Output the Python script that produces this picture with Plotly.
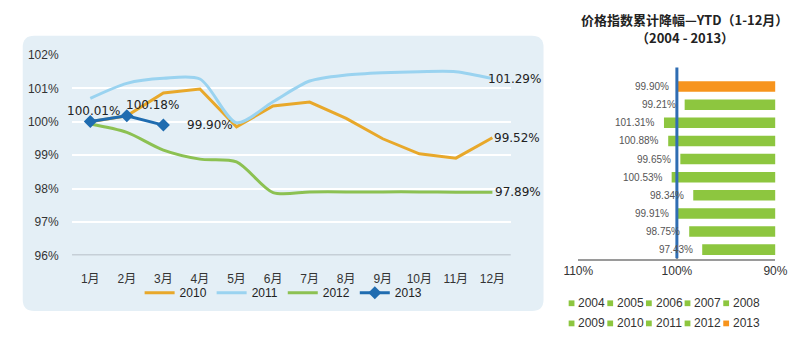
import plotly.graph_objects as go

W, H = 800, 340

# ---------------- data ----------------
months = ["1月", "2月", "3月", "4月", "5月", "6月", "7月", "8月", "9月", "10月", "11月", "12月"]
y2010 = [100.0, 100.18, 100.86, 100.98, 99.85, 100.47, 100.59, 100.1, 99.49, 99.04, 98.91, 99.52]
y2011 = [100.7, 101.15, 101.3, 101.28, 99.97, 100.6, 101.22, 101.4, 101.47, 101.5, 101.5, 101.29]
y2012 = [99.93, 99.68, 99.15, 98.88, 98.8, 97.88, 97.9, 97.9, 97.9, 97.9, 97.89, 97.89]
y2013 = [100.01, 100.18, 99.90]
left_ticks = [96, 97, 98, 99, 100, 101, 102]

bar_years = ["2004", "2005", "2006", "2007", "2008", "2009", "2010", "2011", "2012", "2013"]
bar_values = [97.43, 98.75, 99.91, 98.34, 100.53, 99.65, 100.88, 101.31, 99.21, 99.90]
bar_colors = ["#8dc63f"] * 9 + ["#f7941d"]
right_ticks = [110, 100, 90]

C2010, C2011, C2012, C2013 = "#e8a82a", "#9ad3f0", "#8cc152", "#1f6cb0"
SANS = "Liberation Sans, Arial, Noto Sans CJK SC"


def px(x):
    return x / W


def py(y):
    return 1 - y / H


fig = go.Figure()

# ---------------- left chart ----------------
fig.add_trace(go.Scatter(x=months, y=y2010, name="2010", mode="lines",
                         line=dict(color=C2010, width=3), xaxis="x", yaxis="y"))
fig.add_trace(go.Scatter(x=months, y=y2011, name="2011", mode="lines",
                         line=dict(color=C2011, width=3, shape="spline", smoothing=0.8),
                         xaxis="x", yaxis="y"))
fig.add_trace(go.Scatter(x=months, y=y2012, name="2012", mode="lines",
                         line=dict(color=C2012, width=3, shape="spline", smoothing=0.8),
                         xaxis="x", yaxis="y"))
fig.add_trace(go.Scatter(x=months[:len(y2013)], y=y2013, name="2013", mode="lines+markers",
                         line=dict(color=C2013, width=3),
                         marker=dict(symbol="diamond", size=10, color=C2013),
                         xaxis="x", yaxis="y"))

annos = []
lab_font = dict(family="DejaVu Sans", size=12, color="#222")
# 2013 labels
annos.append(dict(x=months[0], y=y2013[0], xref="x", yref="y", text=f"{y2013[0]:.2f}%",
                  showarrow=False, xanchor="center", yanchor="middle", xshift=3, yshift=10, font=lab_font))
annos.append(dict(x=months[1], y=y2013[1], xref="x", yref="y", text=f"{y2013[1]:.2f}%",
                  showarrow=False, xanchor="left", yanchor="middle", xshift=-3, yshift=11, font=lab_font))
annos.append(dict(x=months[2], y=y2013[2], xref="x", yref="y", text=f"{y2013[2]:.2f}%",
                  showarrow=False, xanchor="left", yanchor="middle", xshift=22, yshift=0, font=lab_font))
# end labels
for series, dx in ((y2011, -6), (y2010, 0), (y2012, 1)):
    annos.append(dict(x=months[-1], y=series[-1], xref="x", yref="y", text=f"{series[-1]:.2f}%",
                      showarrow=False, xanchor="left", yanchor="middle", xshift=dx, font=lab_font))

# ---------------- right chart ----------------
fig.add_trace(go.Bar(y=bar_years, x=[v - 90 for v in bar_values], base=90, orientation="h",
                     marker=dict(color=bar_colors, line=dict(width=0)), width=0.58,
                     xaxis="x2", yaxis="y2", showlegend=False))
for i, v in enumerate(bar_values):
    annos.append(dict(x=v, y=i, xref="x2", yref="y2", text=f"{v:.2f}%", showarrow=False,
                      xanchor="right", yanchor="middle", xshift=-7,
                      font=dict(family=SANS, size=10, color="#555")))

# right title (two lines)
title_font = dict(family="Noto Sans CJK SC", size=13, color="#222")
annos.append(dict(x=px(693), y=py(13), xref="paper", yref="paper", showarrow=False,
                  text="<b>价格指数累计降幅—YTD（1-12月）</b>",
                  xanchor="center", yanchor="middle", font=title_font))
annos.append(dict(x=px(693), y=py(32), xref="paper", yref="paper", showarrow=False,
                  text="<b>（2004 - 2013）</b>",
                  xanchor="center", yanchor="middle", font=title_font))

shapes = []
# left rounded panel
x0, x1, y0, y1, r = px(8), px(547), py(317), py(30), 12
rx, ry = r / W, r / H
shapes.append(dict(type="path", xref="paper", yref="paper", layer="below",
                   path=(f"M{x0+rx},{y1} L{x1-rx},{y1} Q{x1},{y1} {x1},{y1-ry} "
                         f"L{x1},{y0+ry} Q{x1},{y0} {x1-rx},{y0} L{x0+rx},{y0} "
                         f"Q{x0},{y0} {x0},{y0+ry} L{x0},{y1-ry} Q{x0},{y1} {x0+rx},{y1} Z"),
                   fillcolor="#e4eff6", line=dict(width=0)))
# 100% reference line on the right chart
shapes.append(dict(type="line", xref="x2", yref="paper", x0=100, x1=100, y0=py(262), y1=py(63),
                   line=dict(color="#2f6db3", width=3)))

# right custom legend (two rows of five)
for i, (yr, c) in enumerate(zip(bar_years, bar_colors)):
    row, col = divmod(i, 5)
    sx = 573 + col * 40
    sy = 309 + row * 21
    shapes.append(dict(type="rect", xref="paper", yref="paper",
                       x0=px(sx), x1=px(sx + 6), y0=py(sy + 3), y1=py(sy - 3),
                       fillcolor=c, line=dict(width=0)))
    annos.append(dict(x=px(sx + 8), y=py(sy), xref="paper", yref="paper", text=yr, showarrow=False,
                      xanchor="left", yanchor="middle",
                      font=dict(family=SANS, size=12, color="#333")))

fig.update_layout(
    width=W, height=H, margin=dict(l=0, r=0, t=0, b=0),
    paper_bgcolor="white", plot_bgcolor="rgba(0,0,0,0)",
    font=dict(family=SANS, size=12, color="#333"),
    xaxis=dict(domain=[px(59), px(513)], type="category", range=[-0.5, 11.5],
               showgrid=False, zeroline=False, showline=False,
               ticks="outside", ticklen=12, tickcolor="rgba(0,0,0,0)",
               tickfont=dict(family=SANS, size=12, color="#333"),
               anchor="y", fixedrange=True),
    yaxis=dict(domain=[py(259), py(50)], range=[96, 102], tickvals=left_ticks,
               ticktext=[f"{t}%" for t in left_ticks],
               showgrid=True, gridcolor="white", gridwidth=1.5, zeroline=False,
               showline=False, ticks="outside", ticklen=10, tickcolor="rgba(0,0,0,0)",
               tickfont=dict(family=SANS, size=12, color="#333"), anchor="x"),
    xaxis2=dict(domain=[px(583), px(787)], range=[110, 90], tickvals=right_ticks,
                ticktext=[f"{t}%" for t in right_ticks],
                showgrid=False, zeroline=False, showline=True, linecolor="#9a9a9a", linewidth=1.5,
                ticks="inside", ticklen=6, tickcolor="#9a9a9a", tickwidth=1.5,
                tickfont=dict(family=SANS, size=12, color="#333"), anchor="y2"),
    yaxis2=dict(domain=[py(262.5), py(73.5)], type="category", categoryorder="array",
                categoryarray=bar_years, range=[-0.5, 9.5], showticklabels=False,
                showgrid=False, zeroline=False, showline=False, anchor="x2"),
    legend=dict(orientation="h", x=px(278), xanchor="center", y=py(298), yanchor="middle",
                font=dict(family=SANS, size=12, color="#222"), bgcolor="rgba(0,0,0,0)",
                itemwidth=30, tracegroupgap=0),
    annotations=annos, shapes=shapes, bargap=0.4,
)
# bottom axis line at 96% for the left chart
fig.add_shape(type="line", xref="paper", yref="y", x0=px(59), x1=px(513), y0=96, y1=96,
              line=dict(color="#a8b0b8", width=1.5))

fig.write_html("out.html")
